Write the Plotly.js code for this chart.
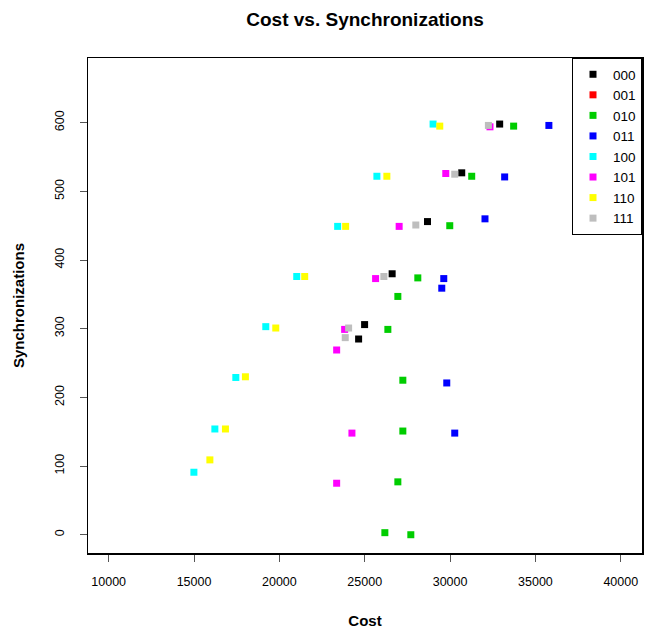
<!DOCTYPE html>
<html>
<head>
<meta charset="utf-8">
<script src="https://cdn.plot.ly/plotly-3.0.1.min.js"></script>
<style>html,body{margin:0;padding:0;background:#fff;}#chart{width:645px;height:632px;}</style>
</head>
<body>
<div id="chart"></div>
<script>
// Series names (legend order)
const seriesNames = ["000", "001", "010", "011", "100", "101", "110", "111"];
const seriesColors = ["#000000", "#FF0000", "#00CD00", "#0000FF", "#00FFFF", "#FF00FF", "#FFFF00", "#BEBEBE"];

// Cost / Synchronizations values per series
const cost000 = [32907, 30684, 28679, 26608, 24994, 24643];
const sync000 = [598, 527, 456, 380, 306, 285];

const cost001 = [null];
const sync001 = [null];

const cost010 = [33725, 31269, 29983, 28111, 26942, 26357, 27234, 27234, 26942, 26181, 27702];
const sync010 = [595, 522, 450, 374, 347, 299, 225, 151, 77, 3, 0];

const cost011 = [35790, 33199, 32047, 29632, 29515, 29807, 30275];
const sync011 = [596, 521, 460, 373, 359, 221, 148];

const cost100 = [29006, 25714, 23415, 21018, 19205, 17450, 16222, 14994];
const sync100 = [598, 522, 449, 376, 303, 229, 154, 91];

const cost101 = [32339, 29749, 27018, 25638, 23825, 23357, 24252, 23357];
const sync101 = [594, 526, 449, 373, 299, 269, 148, 75];

const cost110 = [29398, 26298, 23883, 21485, 19790, 18012, 16842, 15930, 41380, 41380];
const sync110 = [595, 522, 449, 376, 301, 230, 154, 109, 669, 0];

const cost111 = [32246, 30275, 27994, 26123, 24058, 23860];
const sync111 = [596, 525, 451, 376, 301, 287];

const xTickVals = [10000, 15000, 20000, 25000, 30000, 35000, 40000];
const yTickVals = [0, 100, 200, 300, 400, 500, 600];

const costs = [cost000, cost001, cost010, cost011, cost100, cost101, cost110, cost111];
const syncs = [sync000, sync001, sync010, sync011, sync100, sync101, sync110, sync111];

const FONT = "Liberation Sans, Arial, Helvetica, sans-serif";

const traces = seriesNames.map((name, i) => ({
  type: "scatter",
  mode: "markers",
  name: name,
  x: costs[i],
  y: syncs[i],
  cliponaxis: false,
  showlegend: true,
  marker: { symbol: "square", size: 7, color: seriesColors[i], line: { width: 0 } }
}));

const layout = {
  width: 645,
  height: 632,
  margin: { l: 88, r: 3, t: 58, b: 79 },
  paper_bgcolor: "#ffffff",
  plot_bgcolor: "#ffffff",
  font: { family: FONT, color: "#000000", size: 12 },
  title: {
    text: "<b>Cost vs. Synchronizations</b>",
    font: { family: FONT, size: 19, color: "#000000" },
    x: 0.566, xref: "container", xanchor: "center",
    y: 0.97, yref: "container", yanchor: "middle"
  },
  showlegend: true,
  legend: {
    x: 1, y: 1, xanchor: "right", yanchor: "top",
    bgcolor: "#ffffff", bordercolor: "#000000", borderwidth: 1,
    font: { family: FONT, size: 13.5, color: "#000000" },
    itemwidth: 30
  },
  xaxis: {
    range: [8790, 41245],
    tickvals: xTickVals,
    ticktext: xTickVals.map(String),
    ticks: "outside", ticklen: 7, tickwidth: 1, tickcolor: "#555555",
    ticklabelstandoff: 9,
    showgrid: false, zeroline: false,
    showline: true, mirror: true, linecolor: "#000000", linewidth: 1.5,
    tickfont: { family: FONT, size: 12.5, color: "#000000" },
    title: { text: "<b>Cost</b>", font: { family: FONT, size: 15, color: "#000000" }, standoff: 28 },
    automargin: false
  },
  yaxis: {
    range: [-26.6, 694.2],
    tickvals: yTickVals,
    ticktext: yTickVals.map(String),
    tickangle: -90,
    ticks: "outside", ticklen: 7, tickwidth: 1, tickcolor: "#555555",
    ticklabelstandoff: 11,
    showgrid: false, zeroline: false,
    showline: true, mirror: true, linecolor: "#000000", linewidth: 1.5,
    tickfont: { family: FONT, size: 12.5, color: "#000000" },
    title: { text: "<b>Synchronizations</b>", font: { family: FONT, size: 15, color: "#000000" }, standoff: 24 },
    automargin: false
  }
};

Plotly.newPlot("chart", traces, layout, { staticPlot: true, displayModeBar: false });
</script>
</body>
</html>
